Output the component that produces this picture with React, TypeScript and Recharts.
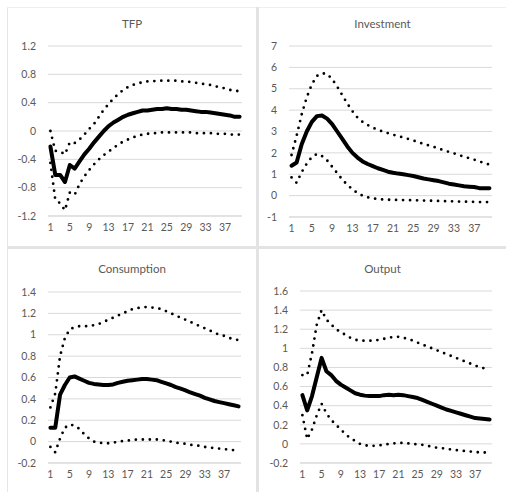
import React from "react";
import { LineChart, Line, XAxis, YAxis, CartesianGrid } from "recharts";

const periods = [1,2,3,4,5,6,7,8,9,10,11,12,13,14,15,16,17,18,19,20,21,22,23,24,25,26,27,28,29,30,31,32,33,34,35,36,37,38,39,40];

const tfpMean = [-0.22,-0.62,-0.62,-0.72,-0.48,-0.53,-0.43,-0.33,-0.25,-0.16,-0.08,0.0,0.07,0.12,0.16,0.2,0.23,0.25,0.27,0.29,0.29,0.3,0.31,0.31,0.32,0.31,0.31,0.3,0.3,0.29,0.28,0.27,0.27,0.26,0.25,0.24,0.23,0.22,0.2,0.2];
const tfpUpper = [0.0,-0.28,-0.29,-0.33,-0.16,-0.17,-0.12,-0.05,0.03,0.1,0.2,0.3,0.38,0.46,0.52,0.58,0.62,0.65,0.67,0.69,0.7,0.7,0.71,0.71,0.71,0.71,0.71,0.7,0.7,0.69,0.68,0.67,0.66,0.65,0.63,0.62,0.6,0.58,0.57,0.56];
const tfpLower = [-0.45,-0.97,-1.02,-1.12,-0.87,-0.9,-0.75,-0.64,-0.55,-0.47,-0.4,-0.34,-0.29,-0.24,-0.19,-0.15,-0.12,-0.09,-0.07,-0.05,-0.04,-0.03,-0.03,-0.02,-0.02,-0.02,-0.02,-0.02,-0.02,-0.02,-0.03,-0.03,-0.03,-0.03,-0.04,-0.04,-0.04,-0.05,-0.05,-0.05];

const invMean = [1.4,1.55,2.4,3.0,3.45,3.72,3.75,3.6,3.35,3.0,2.65,2.3,2.0,1.78,1.6,1.48,1.38,1.28,1.2,1.12,1.07,1.03,1.0,0.96,0.92,0.86,0.8,0.76,0.72,0.68,0.62,0.56,0.52,0.48,0.44,0.42,0.4,0.35,0.34,0.35];
const invUpper = [1.9,2.8,3.8,4.6,5.2,5.6,5.72,5.7,5.45,5.1,4.7,4.3,3.95,3.65,3.45,3.3,3.18,3.08,3.0,2.92,2.85,2.78,2.72,2.65,2.58,2.5,2.42,2.35,2.28,2.2,2.12,2.05,1.98,1.9,1.82,1.75,1.68,1.6,1.52,1.45];
const invLower = [0.85,0.6,1.1,1.5,1.8,1.95,1.85,1.65,1.35,1.05,0.75,0.5,0.3,0.12,0.0,-0.08,-0.13,-0.16,-0.18,-0.19,-0.2,-0.2,-0.21,-0.21,-0.22,-0.22,-0.23,-0.24,-0.24,-0.25,-0.26,-0.26,-0.27,-0.28,-0.28,-0.29,-0.29,-0.3,-0.3,-0.3];

const conMean = [0.13,0.13,0.44,0.53,0.6,0.61,0.59,0.57,0.55,0.54,0.535,0.53,0.53,0.535,0.55,0.56,0.57,0.575,0.58,0.585,0.585,0.58,0.575,0.56,0.545,0.53,0.51,0.495,0.48,0.46,0.445,0.43,0.41,0.395,0.38,0.37,0.36,0.35,0.34,0.33];
const conUpper = [0.32,0.45,0.8,0.97,1.05,1.07,1.08,1.08,1.08,1.09,1.1,1.12,1.14,1.16,1.18,1.2,1.22,1.24,1.25,1.255,1.26,1.255,1.25,1.24,1.22,1.2,1.18,1.16,1.14,1.12,1.1,1.08,1.06,1.04,1.02,1.0,0.99,0.97,0.96,0.95];
const conLower = [-0.05,-0.1,0.03,0.13,0.16,0.15,0.12,0.07,0.03,0.0,-0.01,-0.015,-0.015,-0.01,0.0,0.005,0.01,0.015,0.02,0.02,0.02,0.02,0.02,0.015,0.01,0.0,-0.01,-0.015,-0.02,-0.03,-0.035,-0.04,-0.05,-0.055,-0.06,-0.065,-0.07,-0.075,-0.08,-0.085];

const outMean = [0.51,0.35,0.5,0.7,0.9,0.76,0.72,0.66,0.62,0.59,0.56,0.53,0.515,0.505,0.5,0.5,0.5,0.51,0.515,0.51,0.515,0.51,0.5,0.49,0.48,0.46,0.44,0.42,0.4,0.38,0.36,0.345,0.33,0.315,0.3,0.285,0.27,0.265,0.26,0.255];
const outUpper = [0.72,0.72,0.95,1.25,1.4,1.3,1.25,1.2,1.17,1.14,1.11,1.09,1.08,1.08,1.08,1.08,1.09,1.1,1.11,1.12,1.12,1.11,1.1,1.08,1.06,1.04,1.02,1.0,0.98,0.96,0.94,0.92,0.9,0.88,0.86,0.84,0.82,0.8,0.79,0.77];
const outLower = [0.3,0.05,0.15,0.3,0.42,0.32,0.25,0.2,0.15,0.1,0.06,0.03,0.0,-0.015,-0.02,-0.02,-0.015,-0.01,0.0,0.005,0.01,0.01,0.005,0.0,-0.005,-0.01,-0.02,-0.03,-0.04,-0.045,-0.05,-0.06,-0.065,-0.07,-0.075,-0.08,-0.085,-0.09,-0.09,-0.095];

const tfpTicks = [-1.2,-0.8,-0.4,0,0.4,0.8,1.2];
const invTicks = [-1,0,1,2,3,4,5,6,7];
const conTicks = [-0.2,0,0.2,0.4,0.6,0.8,1,1.2,1.4];
const outTicks = [-0.2,0,0.2,0.4,0.6,0.8,1,1.2,1.4,1.6];

const FONT = "Lato, 'Open Sans', sans-serif";
const TXT = "#595959";
const GRID = "#d9d9d9";

function buildRows(mean: number[], upper: number[], lower: number[]) {
  return periods.map((p, i) => ({ p, mean: mean[i], upper: upper[i], lower: lower[i] }));
}

const fmt = (v: number) => String(Math.round(v * 10) / 10);

type PanelProps = {
  title: string;
  box: { left: number; top: number; width: number; height: number };
  plot: { x1: number; x2: number; y1: number; y2: number };
  titleY: number;
  ticks: number[];
  mean: number[];
  upper: number[];
  lower: number[];
};

function Panel({ title, box, plot, titleY, ticks, mean, upper, lower }: PanelProps) {
  const data = buildRows(mean, upper, lower);
  const yAxisW = plot.x1 - box.left;
  const marginRight = box.left + box.width - plot.x2;
  const marginTop = plot.y1 - box.top;
  const xAxisH = 22;
  const marginBottom = box.top + box.height - plot.y2 - xAxisH;
  const pad = (plot.x2 - plot.x1) / 80;
  return (
    <div style={{ position: "absolute", left: box.left, top: box.top, width: box.width, height: box.height }}>
      <div
        style={{
          position: "absolute",
          left: 0,
          width: box.width,
          top: titleY - box.top - 8,
          textAlign: "center",
          fontFamily: FONT,
          fontSize: 11.5,
          color: TXT,
          lineHeight: "16px",
        }}
      >
        {title}
      </div>
      <LineChart
        width={box.width}
        height={box.height}
        data={data}
        margin={{ top: marginTop, right: marginRight, bottom: marginBottom, left: 0 }}
      >
        <CartesianGrid vertical={false} stroke={GRID} strokeWidth={1} />
        <XAxis
          dataKey="p"
          interval={3}
          height={xAxisH}
          tickLine={false}
          axisLine={{ stroke: GRID }}
          padding={{ left: pad, right: pad }}
          tick={{ fill: TXT, fontSize: 10.5, fontFamily: FONT }}
          tickMargin={2}
        />
        <YAxis
          width={yAxisW}
          domain={[ticks[0], ticks[ticks.length - 1]]}
          ticks={ticks}
          interval={0}
          tickFormatter={fmt}
          tickLine={false}
          axisLine={false}
          tickMargin={6}
          tick={{ fill: TXT, fontSize: 10.5, fontFamily: FONT }}
        />
        <Line
          dataKey="upper"
          stroke="#000"
          strokeWidth={2.8}
          strokeDasharray="0 7"
          strokeLinecap="round"
          dot={false}
          isAnimationActive={false}
        />
        <Line
          dataKey="lower"
          stroke="#000"
          strokeWidth={2.8}
          strokeDasharray="0 7"
          strokeLinecap="round"
          dot={false}
          isAnimationActive={false}
        />
        <Line
          dataKey="mean"
          stroke="#000"
          strokeWidth={4}
          strokeLinejoin="round"
          strokeLinecap="round"
          dot={false}
          isAnimationActive={false}
        />
      </LineChart>
    </div>
  );
}

export default function App() {
  return (
    <div style={{ position: "absolute", left: 0, top: 0, width: 506, height: 492, background: "#fff", overflow: "hidden" }}>
      <div style={{ position: "absolute", left: 7, top: 7, width: 1, height: 485, background: "#e6e6e6" }} />
      <div style={{ position: "absolute", left: 7, top: 7, width: 499, height: 1, background: "#eeeeee" }} />
      <div style={{ position: "absolute", left: 256, top: 7, width: 3, height: 485, background: "#e3e3e3" }} />
      <div style={{ position: "absolute", left: 7, top: 246, width: 499, height: 3, background: "#e3e3e3" }} />
      <Panel
        title="TFP"
        box={{ left: 8, top: 8, width: 248, height: 238 }}
        plot={{ x1: 48, x2: 242, y1: 46, y2: 216 }}
        titleY={24}
        ticks={tfpTicks}
        mean={tfpMean}
        upper={tfpUpper}
        lower={tfpLower}
      />
      <Panel
        title="Investment"
        box={{ left: 259, top: 8, width: 247, height: 238 }}
        plot={{ x1: 289, x2: 492, y1: 46, y2: 217 }}
        titleY={24}
        ticks={invTicks}
        mean={invMean}
        upper={invUpper}
        lower={invLower}
      />
      <Panel
        title="Consumption"
        box={{ left: 8, top: 249, width: 248, height: 243 }}
        plot={{ x1: 48, x2: 241, y1: 292, y2: 463 }}
        titleY={269}
        ticks={conTicks}
        mean={conMean}
        upper={conUpper}
        lower={conLower}
      />
      <Panel
        title="Output"
        box={{ left: 259, top: 249, width: 247, height: 243 }}
        plot={{ x1: 300, x2: 492, y1: 291, y2: 463 }}
        titleY={269}
        ticks={outTicks}
        mean={outMean}
        upper={outUpper}
        lower={outLower}
      />
    </div>
  );
}
